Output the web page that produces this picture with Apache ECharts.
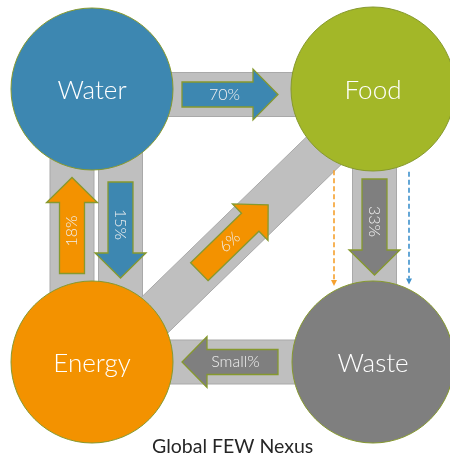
<!DOCTYPE html>
<html><head><meta charset="utf-8">
<script src="https://cdn.jsdelivr.net/npm/echarts@6/dist/echarts.min.js"></script>
<style>html,body{margin:0;padding:0;background:#fff}#c{width:450px;height:458px}</style>
</head><body><div id="c"></div>
<script>
// ---- data ----
const nodeNames = ['Water', 'Food', 'Energy', 'Waste'];
const flowSource = ['Water', 'Energy', 'Water', 'Food', 'Energy', 'Waste'];
const flowTarget = ['Food', 'Water', 'Energy', 'Waste', 'Food', 'Energy'];
const flowLabels = ['70%', '18%', '15%', '33%', '6%', 'Small%'];
const flowColorNode = ['Water', 'Energy', 'Water', 'Waste', 'Energy', 'Waste'];
const dashSource = ['Food', 'Food'];
const dashTarget = ['Waste', 'Waste'];
const dashColorNode = ['Energy', 'Water'];
const titleText = 'Global FEW Nexus';

// ---- layout & style ----
const nodeX = [92, 373, 92, 373];
const nodeY = [89, 89, 362, 362];
const nodeR = [81, 82, 81, 81];
const nodeColors = ['#3d87b1', '#a3b728', '#f39200', '#7f7f7f'];
const dashColors = ['#f6a12e', '#3f91cc'];
const flowOffset = [5.5, -20, -28.5, -1.5, 10, 0];
const flowShift = [-2.5, 0, 4.5, 1.5, -8, 2.5];
const dashOffset = [39, -36];
const bandWidth = 44, arrowLen = 96, headLen = 25, bodyW = 25, headW = 51;
const FONT = 'Lato, "Open Sans", sans-serif';
const outline = '#86992e';

const idx = n => nodeNames.indexOf(n);
function frame(s, t, off) {
  const S = [nodeX[s], nodeY[s]], T = [nodeX[t], nodeY[t]];
  const dx = T[0] - S[0], dy = T[1] - S[1], L = Math.hypot(dx, dy);
  const u = [dx / L, dy / L], n = [-u[1], u[0]];
  return { S, T, u, n, L, o: off };
}
const add = (p, v, k) => [p[0] + v[0] * k, p[1] + v[1] * k];

const chart = echarts.init(document.getElementById('c'));

function bandItem(params, api) {
  const i = params.dataIndex;
  const f = frame(idx(flowSource[i]), idx(flowTarget[i]), flowOffset[i]);
  const a = add(f.S, f.n, f.o), b = add(f.T, f.n, f.o);
  const pts = [add(a, f.n, bandWidth / 2), add(b, f.n, bandWidth / 2), add(b, f.n, -bandWidth / 2), add(a, f.n, -bandWidth / 2)].map(p => api.coord(p));
  return { type: 'polygon', shape: { points: pts }, style: { fill: '#bfbfbf', stroke: '#a9a9a9', lineWidth: 1 } };
}

function arrowItem(params, api) {
  const i = params.dataIndex;
  const f = frame(idx(flowSource[i]), idx(flowTarget[i]), flowOffset[i]);
  let C = add([(f.S[0] + f.T[0]) / 2, (f.S[1] + f.T[1]) / 2], f.n, f.o);
  C = add(C, f.u, flowShift[i]);
  const tail = add(C, f.u, -arrowLen / 2), tip = add(C, f.u, arrowLen / 2);
  const hb = add(tip, f.u, -headLen);
  const pts = [add(tail, f.n, bodyW / 2), add(hb, f.n, bodyW / 2), add(hb, f.n, headW / 2), tip,
    add(hb, f.n, -headW / 2), add(hb, f.n, -bodyW / 2), add(tail, f.n, -bodyW / 2)].map(p => api.coord(p));
  const bc = add(tail, f.u, (arrowLen - headLen) / 2 + 7);
  const tp = api.coord(bc);
  let ang = Math.atan2(-f.u[1], f.u[0]);
  if (ang > Math.PI / 2 + 0.01) ang -= Math.PI;
  if (ang < -Math.PI / 2 - 0.01) ang += Math.PI;
  return {
    type: 'group', children: [
      { type: 'polygon', shape: { points: pts }, style: { fill: nodeColors[idx(flowColorNode[i])], stroke: outline, lineWidth: 1.3 } },
      { type: 'text', x: tp[0], y: tp[1], rotation: ang, style: { text: flowLabels[i], fill: '#f0f0f0', font: '300 16px ' + FONT, align: 'center', verticalAlign: 'middle' } }
    ]
  };
}

function dashItem(params, api) {
  const i = params.dataIndex;
  const s = idx(dashSource[i]), t = idx(dashTarget[i]);
  const f = frame(s, t, dashOffset[i]);
  const o = f.o;
  const start = add(add(f.S, f.n, o), f.u, Math.sqrt(nodeR[s] ** 2 - o * o) + 9);
  const end = add(add(f.T, f.n, o), f.u, -(Math.sqrt(nodeR[t] ** 2 - o * o) + 5));
  const hb = add(end, f.u, -6);
  const col = dashColors[i];
  const p1 = api.coord(start), p2 = api.coord(hb);
  return {
    type: 'group', children: [
      { type: 'line', shape: { x1: p1[0], y1: p1[1], x2: p2[0], y2: p2[1] }, style: { stroke: col, lineWidth: 1.6, lineDash: [5, 3] } },
      { type: 'polygon', shape: { points: [add(hb, f.n, 3), end, add(hb, f.n, -3)].map(p => api.coord(p)) }, style: { fill: col } }
    ]
  };
}

function nodeItem(params, api) {
  const c = api.coord([api.value(0), api.value(1)]);
  const r = api.size([nodeR[params.dataIndex], 0])[0];
  return {
    type: 'group', children: [
      { type: 'circle', shape: { cx: c[0], cy: c[1], r: r }, style: { fill: nodeColors[params.dataIndex], stroke: outline, lineWidth: 1 } },
      { type: 'text', x: c[0], y: c[1] + 2, style: { text: nodeNames[params.dataIndex], fill: '#ffffff', font: '300 26px ' + FONT, align: 'center', verticalAlign: 'middle' } }
    ]
  };
}

const flowData = flowLabels.map((l, i) => [(nodeX[idx(flowSource[i])] + nodeX[idx(flowTarget[i])]) / 2, (nodeY[idx(flowSource[i])] + nodeY[idx(flowTarget[i])]) / 2, l]);
const dashData = dashSource.map((s, i) => [nodeX[idx(s)], (nodeY[idx(s)] + nodeY[idx(dashTarget[i])]) / 2]);
const nodeData = nodeNames.map((n, i) => [nodeX[i], nodeY[i], n]);

chart.setOption({
  animation: false,
  backgroundColor: '#ffffff',
  title: { text: titleText, left: 147, top: 432, textStyle: { fontFamily: FONT, fontSize: 19.5, fontWeight: 'normal', color: '#262626' } },
  grid: { left: 0, right: 0, top: 0, bottom: 0 },
  xAxis: { type: 'value', min: 0, max: 450, show: false },
  yAxis: { type: 'value', min: 0, max: 458, inverse: true, show: false },
  series: [
    { type: 'custom', z: 1, data: flowData, encode: { x: 0, y: 1 }, renderItem: bandItem, silent: true },
    { type: 'custom', z: 2, data: dashData, encode: { x: 0, y: 1 }, renderItem: dashItem, silent: true },
    { type: 'custom', z: 3, data: nodeData, encode: { x: 0, y: 1 }, renderItem: nodeItem, silent: true },
    { type: 'custom', z: 4, data: flowData, encode: { x: 0, y: 1 }, renderItem: arrowItem, silent: true }
  ]
});
</script></body></html>
